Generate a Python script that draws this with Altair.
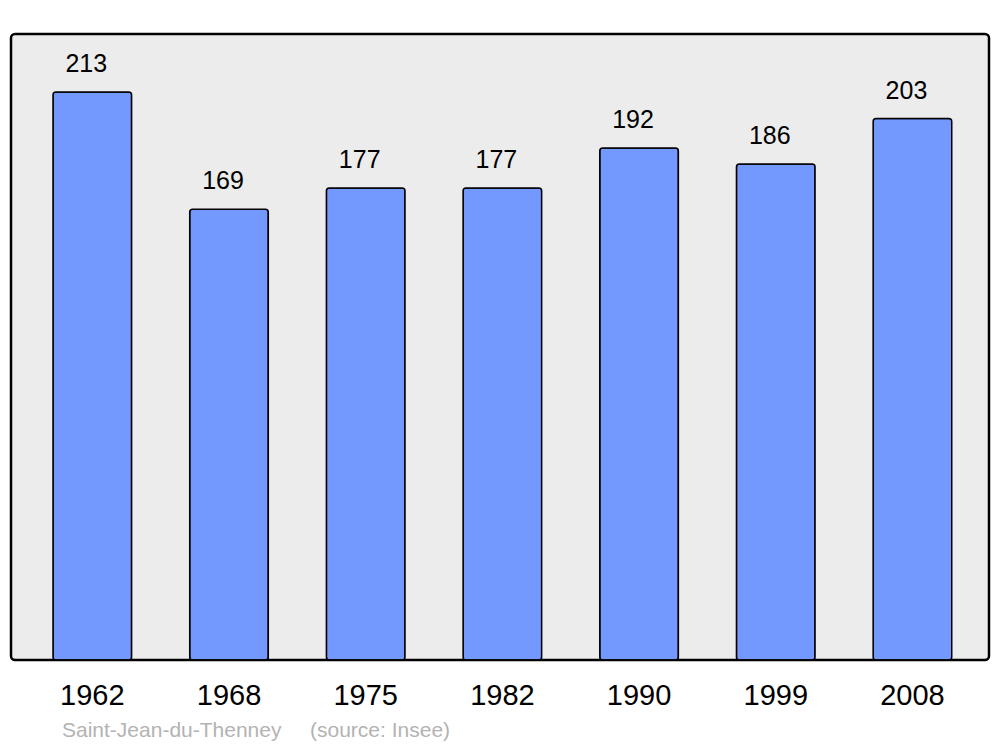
import altair as alt
import pandas as pd

years = ["1962", "1968", "1975", "1982", "1990", "1999", "2008"]
population = [213, 169, 177, 177, 192, 186, 203]
place_label = "Saint-Jean-du-Thenney"
source_label = "(source: Insee)"

df = pd.DataFrame({"year": years, "pop": population})

x = alt.X("year:N", sort=years,
          scale=alt.Scale(paddingInner=0.425, paddingOuter=0.29, align=0.53),
          axis=alt.Axis(title=None, domain=False, ticks=False, labelAngle=0,
                        labelFontSize=29, labelFont="Liberation Sans",
                        labelColor="black", labelPadding=21, labelBaseline="top"))
y = alt.Y("pop:Q", scale=alt.Scale(domain=[0, 234.7], nice=False, zero=True), axis=None)

bars = alt.Chart(df).mark_bar(
    fill="#7399ff", stroke="black", strokeWidth=1.5, cornerRadius=3
).encode(x=x, y=y)

values = alt.Chart(df).mark_text(
    font="Liberation Sans", fontSize=25, color="black", dy=-20, dx=-6, baseline="alphabetic"
).encode(x=x, y=y, text="pop:Q")

foot1 = alt.Chart(pd.DataFrame({"t": [place_label]})).mark_text(
    font="Liberation Sans", fontSize=21, color="#b3b3b3", align="left", baseline="alphabetic"
).encode(x=alt.value(51), y=alt.value(703), text="t:N")

foot2 = alt.Chart(pd.DataFrame({"t": [source_label]})).mark_text(
    font="Liberation Sans", fontSize=21, color="#b3b3b3", align="left", baseline="alphabetic"
).encode(x=alt.value(299), y=alt.value(703), text="t:N")

chart = alt.layer(bars, values, foot1, foot2).properties(
    width=978, height=626,
    background="white",
    autosize=alt.AutoSizeParams(type="none"),
    padding={"left": 3, "top": 26, "right": 3, "bottom": 82},
).configure_view(
    fill="#ececec", stroke="black", strokeWidth=2.5, cornerRadius=4
)

chart.save("out.html", embed_options={"renderer": "svg", "actions": False})
